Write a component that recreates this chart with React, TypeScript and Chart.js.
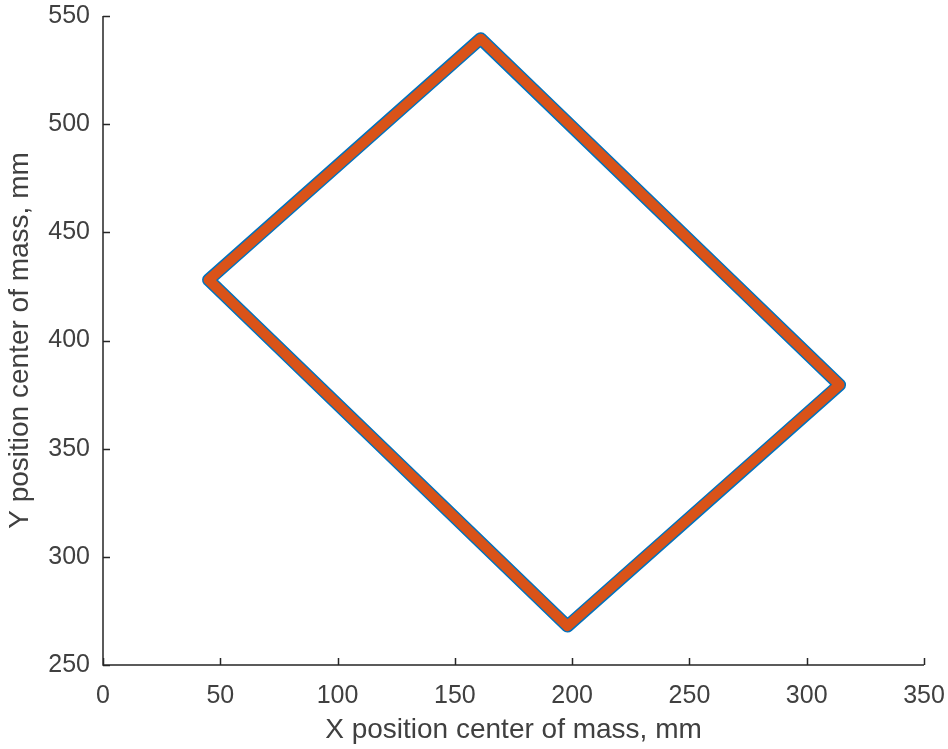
import React, { useEffect, useRef } from "react";
import { Chart, registerables } from "chart.js";

Chart.register(...registerables);

const cornerX = [161, 45, 198, 314, 161];
const cornerY = [539.5, 428, 268, 379.5, 539.5];
const xTicks = [0, 50, 100, 150, 200, 250, 300, 350];
const yTicks = [250, 300, 350, 400, 450, 500, 550];

const FONT = "'Liberation Sans', Arial, Helvetica, sans-serif";
const TEXT = "#404040";
const AXIS = "#262626";

const inwardTicks = {
  id: "inwardTicks",
  afterDraw(chart: any) {
    const ctx = chart.ctx;
    const xs = chart.scales.x;
    const ys = chart.scales.y;
    const area = chart.chartArea;
    ctx.save();
    ctx.strokeStyle = AXIS;
    ctx.lineWidth = 1.5;
    ctx.beginPath();
    ctx.moveTo(area.left, area.top);
    ctx.lineTo(area.left, area.bottom);
    ctx.lineTo(area.right, area.bottom);
    for (const v of xTicks) {
      const px = Math.round(xs.getPixelForValue(v)) + 0.5;
      ctx.moveTo(px, area.bottom);
      ctx.lineTo(px, area.bottom - 7);
    }
    for (const v of yTicks) {
      const py = Math.round(ys.getPixelForValue(v)) + 0.5;
      ctx.moveTo(area.left, py);
      ctx.lineTo(area.left + 7, py);
    }
    ctx.stroke();
    ctx.restore();
  },
};

export default function App() {
  const ref = useRef<HTMLCanvasElement>(null);
  useEffect(() => {
    const pts = cornerX.map((x, i) => ({ x, y: cornerY[i] }));
    const chart = new Chart(ref.current!, {
      type: "scatter",
      data: {
        datasets: [
          {
            data: pts,
            showLine: true,
            borderColor: "#D95319",
            borderWidth: 10,
            pointRadius: 0,
            borderJoinStyle: "round",
            borderCapStyle: "round",
          } as any,
          {
            data: pts,
            showLine: true,
            borderColor: "#0072BD",
            borderWidth: 13,
            pointRadius: 0,
            borderJoinStyle: "round",
            borderCapStyle: "round",
          } as any,
        ],
      },
      options: {
        animation: false,
        responsive: true,
        maintainAspectRatio: false,
        layout: { padding: { top: 16, right: 24, left: 0, bottom: 0 } },
        plugins: { legend: { display: false }, tooltip: { enabled: false } },
        scales: {
          x: {
            type: "linear",
            min: 0,
            max: 350,
            afterBuildTicks: (s: any) => {
              s.ticks = xTicks.map((v) => ({ value: v }));
            },
            afterFit: (s: any) => {
              s.height = 84;
              s.paddingLeft = 0;
              s.paddingRight = 0;
            },
            grid: { display: false, drawTicks: false },
            border: { display: false },
            ticks: {
              padding: 16,
              color: TEXT,
              font: { family: FONT, size: 25 },
              maxRotation: 0,
            },
            title: {
              display: true,
              text: "X position center of mass, mm",
              color: TEXT,
              font: { family: FONT, size: 28 },
              padding: { top: 0, bottom: 2 },
            },
          },
          y: {
            type: "linear",
            min: 250,
            max: 550,
            afterBuildTicks: (s: any) => {
              s.ticks = yTicks.map((v) => ({ value: v }));
            },
            afterFit: (s: any) => {
              s.width = 103;
              s.paddingTop = 0;
              s.paddingBottom = 0;
            },
            grid: { display: false, drawTicks: false },
            border: { display: false },
            ticks: {
              padding: 13,
              color: TEXT,
              font: { family: FONT, size: 25 },
            },
            title: {
              display: true,
              text: "Y position center of mass, mm",
              color: TEXT,
              font: { family: FONT, size: 28 },
              padding: { top: 3, bottom: 0 },
            },
          },
        },
      },
      plugins: [inwardTicks],
    } as any);
    return () => chart.destroy();
  }, []);
  return (
    <div
      style={{
        position: "fixed",
        left: 0,
        top: 0,
        width: 948,
        height: 749,
        background: "#fff",
      }}
    >
      <canvas ref={ref} />
    </div>
  );
}
